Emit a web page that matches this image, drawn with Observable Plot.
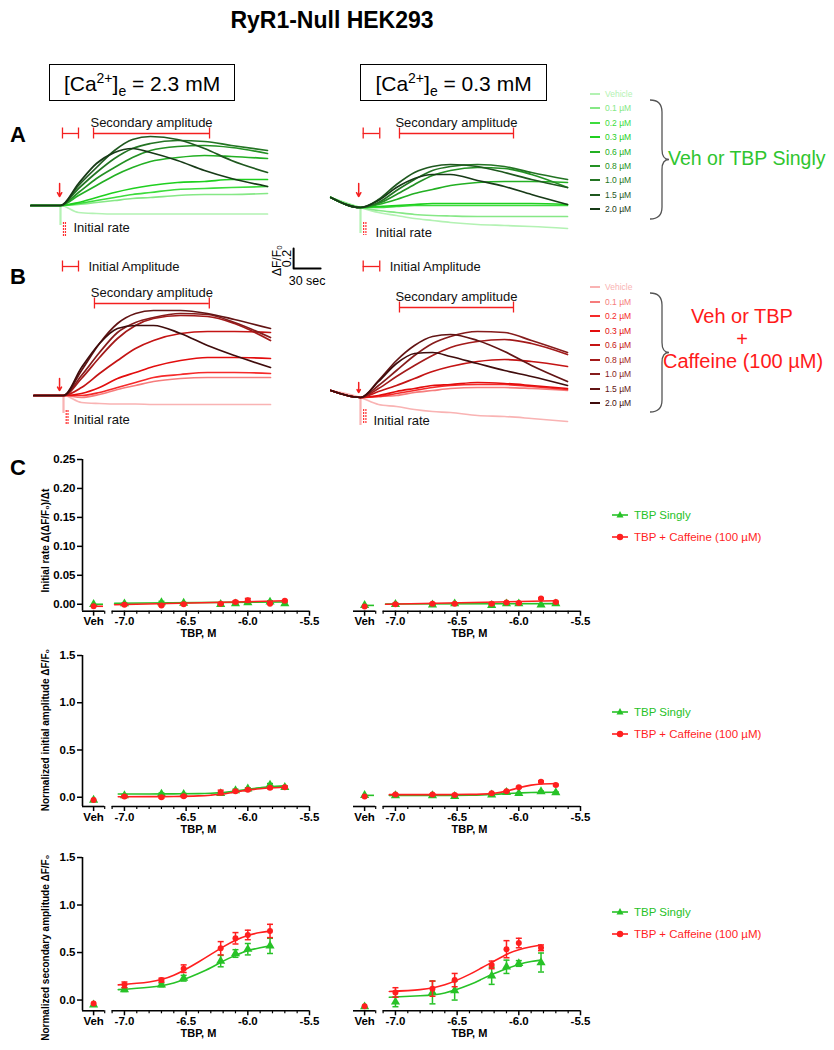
<!DOCTYPE html>
<html><head><meta charset="utf-8">
<script src="https://cdn.jsdelivr.net/npm/d3@7"></script>
<script src="https://cdn.jsdelivr.net/npm/@observablehq/plot@0.6"></script>
<style>
body{margin:0;background:#fff;font-family:"Liberation Sans",Arial,sans-serif;}
#root{position:relative;width:834px;height:1050px;overflow:hidden;background:#fff;}
.abs{position:absolute;white-space:nowrap;}
.ca{position:absolute;border:1.5px solid #000;font-size:21px;text-align:center;height:37px;line-height:37px;box-sizing:border-box;}
.ca sup,.ca sub{font-size:14px;line-height:0;}
.letter{position:absolute;font-weight:bold;font-size:22px;}
</style></head><body><div id="root"></div>
<script>
// ---------------- DATA ----------------
const times = [-33, 0, 20, 40, 60, 80, 100, 130, 160, 190, 230]; // seconds
const doseLabels = ["Vehicle","0.1 µM","0.2 µM","0.3 µM","0.6 µM","0.8 µM","1.0 µM","1.5 µM","2.0 µM"];
const greenShades = ["#b3f2b3","#86e886","#3ddc3d","#1fd01f","#23b023","#249124","#237423","#1f581f","#173a17"];
const redShades = ["#f9b3b3","#f67c7c","#f52a2a","#e30d0d","#c41414","#a31a1a","#861c1c","#621414","#3f0c0c"];

// Panel A, [Ca2+]e = 2.3 mM (ΔF/F0 at the times above)
const traceA23 = [
  [0,0,-0.07,-0.08,-0.085,-0.085,-0.085,-0.085,-0.085,-0.085,-0.085],
  [0,0,0.01,0.03,0.05,0.07,0.08,0.10,0.11,0.11,0.12],
  [0,0,0.02,0.05,0.08,0.11,0.13,0.16,0.17,0.18,0.19],
  [0,0,0.03,0.08,0.13,0.17,0.20,0.23,0.24,0.26,0.26],
  [0,0,0.10,0.20,0.30,0.38,0.44,0.48,0.50,0.49,0.47],
  [0,0,0.13,0.27,0.38,0.48,0.55,0.59,0.60,0.58,0.52],
  [0,0,0.17,0.33,0.47,0.57,0.62,0.65,0.64,0.60,0.55],
  [0,0,0.20,0.38,0.55,0.66,0.69,0.66,0.57,0.45,0.33],
  [0,0,0.22,0.42,0.53,0.57,0.53,0.45,0.35,0.27,0.19]
];
// Panel A, [Ca2+]e = 0.3 mM
const traceA03 = [
  [0.1,0,-0.05,-0.08,-0.11,-0.13,-0.15,-0.17,-0.18,-0.19,-0.21],
  [0.1,0,-0.03,-0.05,-0.07,-0.08,-0.085,-0.09,-0.09,-0.09,-0.09],
  [0.1,0,0.0,0.01,0.02,0.02,0.02,0.02,0.02,0.02,0.02],
  [0.1,0,0.01,0.02,0.03,0.04,0.04,0.04,0.04,0.04,0.03],
  [0.1,0,0.03,0.08,0.14,0.18,0.22,0.25,0.26,0.26,0.25],
  [0.1,0,0.04,0.13,0.23,0.32,0.37,0.40,0.39,0.33,0.20],
  [0.1,0,0.05,0.17,0.28,0.37,0.41,0.43,0.41,0.35,0.28],
  [0.1,0,0.08,0.23,0.35,0.41,0.43,0.41,0.35,0.28,0.20],
  [0.1,0,0.07,0.20,0.29,0.33,0.33,0.27,0.21,0.13,0.03]
];
// Panel B, [Ca2+]e = 2.3 mM
const traceB23 = [
  [0,0,-0.07,-0.08,-0.085,-0.085,-0.09,-0.09,-0.09,-0.09,-0.09],
  [0,0,-0.02,0.01,0.06,0.10,0.14,0.17,0.18,0.18,0.18],
  [0,0,0.0,0.03,0.08,0.13,0.18,0.21,0.23,0.23,0.22],
  [0,0,0.02,0.08,0.17,0.23,0.29,0.35,0.38,0.38,0.37],
  [0,0,0.08,0.22,0.35,0.47,0.55,0.62,0.64,0.64,0.63],
  [0,0,0.17,0.38,0.57,0.70,0.77,0.80,0.79,0.72,0.55],
  [0,0,0.20,0.43,0.63,0.73,0.78,0.82,0.81,0.73,0.58],
  [0,0,0.25,0.52,0.72,0.82,0.85,0.85,0.82,0.76,0.67],
  [0,0,0.28,0.52,0.67,0.70,0.70,0.62,0.50,0.40,0.28]
];
// Panel B, [Ca2+]e = 0.3 mM
const traceB03 = [
  [0.07,0,-0.07,-0.09,-0.12,-0.14,-0.15,-0.18,-0.19,-0.21,-0.24],
  [0.07,0,0.01,0.02,0.05,0.07,0.09,0.10,0.10,0.09,0.07],
  [0.07,0,0.01,0.04,0.07,0.10,0.12,0.13,0.13,0.11,0.08],
  [0.07,0,0.02,0.06,0.09,0.12,0.13,0.15,0.14,0.12,0.09],
  [0.07,0,0.06,0.12,0.19,0.26,0.31,0.36,0.38,0.36,0.31],
  [0.07,0,0.09,0.21,0.32,0.42,0.50,0.56,0.58,0.54,0.43],
  [0.07,0,0.12,0.27,0.42,0.54,0.61,0.66,0.65,0.57,0.45],
  [0.07,0,0.17,0.37,0.52,0.61,0.63,0.57,0.46,0.32,0.16],
  [0.07,0,0.16,0.34,0.44,0.45,0.41,0.34,0.27,0.21,0.12]
];

// Panel C: log[TBP] (M)
const logTBP = [-7.0, -6.7, -6.52, -6.22, -6.1, -6.0, -5.82, -5.7];
const fitX = [-7.05, -6.8, -6.6, -6.4, -6.3, -6.2, -6.1, -6.0, -5.9, -5.82, -5.7];
const fitX2 = [-7.08, -5.7];
const xMajorTicks = [-7.0, -6.5, -6.0, -5.5];
const vehTickLabel = "Veh";

// Initial rate
const rateL_G = [0.001,0.003,0.002,0.000,0.001,0.003,0.004,0.001];
const rateL_R = [-0.001,-0.002,0.000,0.001,0.004,0.007,0.001,0.006];
const rateL_GE = [0.001,0.002,0.001,0.001,0.002,0.002,0.002,0.002];
const rateL_RE = [0.001,0.001,0.001,0.001,0.002,0.003,0.001,0.001];
const rateR_G = [0.000,-0.001,0.001,-0.002,0.001,0.001,-0.001,0.001];
const rateR_R = [0.000,0.001,0.001,0.001,0.003,0.002,0.010,0.004];
const rateR_GE = [0.002,0.001,0.001,0.001,0.001,0.001,0.001,0.001];
const rateR_RE = [0.001,0.001,0.001,0.001,0.001,0.001,0.001,0.001];
const rateVeh = {L:{G:0.000,R:-0.0035}, R:{G:-0.002,R:-0.004}};
const rateFitL_G = [0.0017,0.004], rateFitL_R = [-0.001,0.006];
const rateFitR_G = [0.0003,0.001], rateFitR_R = [0.0,0.006];

// Normalized initial amplitude
const iaL_G = [0.018,0.035,0.03,0.04,0.07,0.09,0.13,0.105];
const iaL_R = [0.007,0.0,0.01,0.05,0.063,0.08,0.10,0.105];
const iaL_GE = [0.01,0.01,0.01,0.01,0.015,0.01,0.015,0.015];
const iaL_RE = [0.01,0.01,0.01,0.025,0.01,0.01,0.01,0.01];
const iaR_G = [0.018,0.018,0.01,0.025,0.053,0.042,0.06,0.05];
const iaR_R = [0.028,0.03,0.025,0.042,0.063,0.105,0.165,0.13];
const iaR_GE = [0.008,0.006,0.006,0.008,0.006,0.006,0.006,0.006];
const iaR_RE = [0.008,0.006,0.006,0.006,0.006,0.008,0.008,0.008];
const iaVeh = {L:{G:-0.03,R:-0.03}, R:{G:0.02,R:0.007}};
const iaFitL_G = [0.035,0.035,0.036,0.038,0.042,0.05,0.065,0.085,0.10,0.11,0.12];
const iaFitL_R = [0.005,0.006,0.008,0.014,0.022,0.035,0.055,0.075,0.09,0.098,0.105];
const iaFitR_G = [0.018,0.018,0.019,0.021,0.024,0.03,0.038,0.045,0.05,0.052,0.053];
const iaFitR_R = [0.028,0.028,0.028,0.03,0.033,0.042,0.065,0.10,0.128,0.14,0.145];

// Normalized secondary amplitude (no 2.0 µM point)
const saL_G = [0.11,0.16,0.23,0.41,0.49,0.535,0.57,null];
const saL_R = [0.16,0.21,0.33,0.545,0.65,0.685,0.727,null];
const saL_GE = [0.02,0.02,0.03,0.06,0.04,0.06,0.08,null];
const saL_RE = [0.03,0.02,0.04,0.07,0.06,0.05,0.07,null];
const saR_G = [-0.02,0.08,0.10,0.255,0.35,0.385,0.395,null];
const saR_R = [0.08,0.12,0.21,0.37,0.535,0.60,0.55,null];
const saR_GE = [0.05,0.12,0.10,0.09,0.07,0.03,0.10,null];
const saR_RE = [0.05,0.08,0.07,0.04,0.09,0.05,0.03,null];
const saVeh = {L:{G:-0.05,R:-0.035}, R:{G:-0.07,R:-0.065}};
const saFitL_G = [0.11,0.135,0.18,0.28,0.34,0.41,0.47,0.52,0.55,0.57,null];
const saFitL_R = [0.16,0.19,0.26,0.40,0.48,0.56,0.63,0.68,0.71,0.725,null];
const saFitR_G = [0.03,0.045,0.075,0.16,0.22,0.28,0.33,0.375,0.405,0.42,null];
const saFitR_R = [0.09,0.11,0.16,0.27,0.34,0.41,0.48,0.53,0.56,0.58,null];

// ---------------- DRAWING ----------------
const root = document.getElementById("root");
const FONT = "Liberation Sans, Arial, sans-serif";
const RED = "#ff1f1f", GREEN = "#27c227", ANN = "#f42020";
const PXS = 0.9, PXU = 100; // pixels per second / per ΔF/F0 unit

function place(el, left, top) {
  el.style.position = "absolute"; el.style.left = left + "px"; el.style.top = top + "px";
  root.appendChild(el); return el;
}
function html(tag, cls, inner, left, top, style) {
  const el = document.createElement(tag);
  if (cls) el.className = cls;
  el.innerHTML = inner;
  if (style) el.setAttribute("style", style);
  return place(el, left, top);
}

// Title, box labels, panel letters
html("div","abs","RyR1-Null HEK293",0,7,"width:664px;text-align:center;font-weight:bold;font-size:23px;");
html("div","ca","[Ca<sup>2+</sup>]<sub>e</sub> = 2.3 mM",49,64,"width:186px;");
html("div","ca","[Ca<sup>2+</sup>]<sub>e</sub> = 0.3 mM",360,64,"width:187px;");
html("div","letter","A",10,122);
html("div","letter","B",10,264);
html("div","letter","C",10,455);

function tracePanel(cfg) {
  const {left, top, xDomain, yDomain, series, colors, spike, arrow, brackets, rateLabel, rateTicks, scaleBar} = cfg;
  const width = (xDomain[1]-xDomain[0])*PXS, height = (yDomain[1]-yDomain[0])*PXU;
  const marks = [];
  marks.push(Plot.ruleX([0], {y1: 0, y2: spike, stroke: colors[0], strokeWidth: 2.2}));
  series.forEach((vals, i) => {
    marks.push(Plot.line(times.map((t, j) => ({t, v: vals[j]})), {x: "t", y: "v", stroke: colors[i], strokeWidth: 1.7, curve: "monotone-x"}));
  });
  marks.push(Plot.arrow([arrow], {x1: "t", x2: "t", y1: "v1", y2: "v2", stroke: ANN, strokeWidth: 1.5, headLength: 5}));
  marks.push(Plot.ruleY(brackets, {x1: "t1", x2: "t2", y: "v", stroke: ANN, strokeWidth: 1.3}));
  const ends = brackets.flatMap(b => [{t: b.t1, v: b.v}, {t: b.t2, v: b.v}]);
  marks.push(Plot.ruleX(ends, {x: "t", y1: d => d.v - 0.055, y2: d => d.v + 0.055, stroke: ANN, strokeWidth: 1.3}));
  marks.push(Plot.text(brackets.filter(b => b.label && !b.right), {x: d => (d.t1 + d.t2)/2, y: d => d.v + 0.11, text: "label", fontSize: 13, fill: "#111"}));
  marks.push(Plot.text(brackets.filter(b => b.label && b.right), {x: "t2", y: "v", text: "label", dx: 10, textAnchor: "start", fontSize: 13, fill: "#111"}));
  marks.push(Plot.ruleX(rateTicks.t, {x: d => d, y1: rateTicks.v1, y2: rateTicks.v2, stroke: "#ff3030", strokeWidth: 1.2, strokeDasharray: "2,1"}));
  marks.push(Plot.text([rateLabel], {x: "t", y: "v", text: d => "Initial rate", textAnchor: "start", fontSize: 13, fill: "#111"}));
  if (scaleBar) {
    const s = scaleBar;
    marks.push(Plot.line([{t: s.t, v: s.v + s.dv}, {t: s.t, v: s.v}, {t: s.t + s.dt, v: s.v}], {x: "t", y: "v", stroke: "#000", strokeWidth: 2}));
    marks.push(Plot.text(["30 sec"], {x: s.t + s.dt/2, y: s.v - 0.12, text: d => d, fontSize: 12.5, fill: "#000"}));
    marks.push(Plot.text(["0.2"], {x: s.t - 7, y: s.v + s.dv/2, text: d => d, rotate: -90, fontSize: 12.5, fill: "#000"}));
    marks.push(Plot.text(["ΔF/F₀"], {x: s.t - 18, y: s.v + s.dv/2 - 0.02, text: d => d, rotate: -90, fontSize: 12, fill: "#000"}));
  }
  const svg = Plot.plot({
    width, height, margin: 0,
    x: {domain: xDomain, axis: null}, y: {domain: yDomain, axis: null},
    style: {fontFamily: FONT, background: "transparent", overflow: "visible"},
    marks
  });
  place(svg, left, top);
}

tracePanel({left: 24, top: 115, xDomain: [-40, 300], yDomain: [-0.8, 0.9], series: traceA23, colors: greenShades,
  spike: -0.2, arrow: {t: -1, v1: 0.22, v2: 0.09},
  brackets: [{t1: 2.2, t2: 20, v: 0.72}, {t1: 36.7, t2: 165.6, v: 0.72, label: "Secondary amplitude"}, {t1: 2.2, t2: 20, v: -0.61, label: "Initial Amplitude", right: true}],
  rateLabel: {t: 14.4, v: -0.22}, rateTicks: {t: [3.3, 5.5], v1: -0.17, v2: -0.32},
  scaleBar: {t: 259, v: -0.63, dt: 30, dv: 0.2}});
tracePanel({left: 324, top: 117, xDomain: [-40, 240], yDomain: [-0.8, 0.9], series: traceA03, colors: greenShades,
  spike: -0.26, arrow: {t: -2, v1: 0.24, v2: 0.11},
  brackets: [{t1: 3, t2: 21.4, v: 0.74}, {t1: 43.3, t2: 170, v: 0.74, label: "Secondary amplitude"}, {t1: 3, t2: 21.4, v: -0.59, label: "Initial Amplitude", right: true}],
  rateLabel: {t: 16.7, v: -0.25}, rateTicks: {t: [3.5, 6], v1: -0.15, v2: -0.28}});
tracePanel({left: 27, top: 280, xDomain: [-40, 240], yDomain: [-0.4, 1.15], series: traceB23, colors: redShades,
  spike: -0.18, arrow: {t: -4.4, v1: 0.17, v2: 0.05},
  brackets: [{t1: 34.4, t2: 162, v: 0.92, label: "Secondary amplitude"}],
  rateLabel: {t: 11, v: -0.24}, rateTicks: {t: [3, 5], v1: -0.15, v2: -0.29}});
tracePanel({left: 324, top: 282, xDomain: [-40, 240], yDomain: [-0.4, 1.15], series: traceB03, colors: redShades,
  spike: -0.28, arrow: {t: -2, v1: 0.15, v2: 0.05},
  brackets: [{t1: 43.3, t2: 170, v: 0.90, label: "Secondary amplitude"}],
  rateLabel: {t: 14.4, v: -0.23}, rateTicks: {t: [3.5, 6], v1: -0.12, v2: -0.26}});

// Dose legends for A and B
function doseLegend(y0, step, colors) {
  doseLabels.forEach((lab, i) => {
    const y = y0 + i*step;
    html("div", "abs", "", 590, y - 1, `width:10px;height:2px;background:${colors[i]};`);
    html("div", "abs", lab, 605, y - 6, `font-size:8.5px;line-height:12px;color:${colors[i]};`);
  });
}
doseLegend(94, 14.4, greenShades);
doseLegend(287, 14.5, redShades);
function brace(y1, y2) {
  const ym = (y1 + y2)/2;
  const svg = document.createElementNS("http://www.w3.org/2000/svg", "svg");
  svg.setAttribute("width", 30); svg.setAttribute("height", y2 - y1 + 4);
  svg.style.overflow = "visible";
  const h = y2 - y1, m = ym - y1;
  const p = document.createElementNS("http://www.w3.org/2000/svg", "path");
  p.setAttribute("d", `M0,0 Q12,0 12,12 L12,${m-10} Q12,${m} 19,${m} Q12,${m} 12,${m+10} L12,${h-12} Q12,${h} 0,${h}`);
  p.setAttribute("fill", "none"); p.setAttribute("stroke", "#555"); p.setAttribute("stroke-width", "1.3");
  svg.appendChild(p);
  place(svg, 650, y1);
}
brace(100, 219);
brace(293, 412);
html("div","abs","Veh or TBP Singly",668,147,"font-size:19.5px;color:#2fc52f;");
html("div","abs","Veh or TBP<br>+<br>Caffeine (100 µM)",663,305,"width:158px;text-align:center;font-size:20px;line-height:22.5px;color:#ff1a1a;");

// -------- Panel C dose-response charts --------
const VEH = -7.25, XMIN = -7.34, XMAX = -5.5;
const axisSegments = [{x1: XMIN, x2: -7.16}, {x1: -7.1, x2: XMAX}];
const minorTicks = d3.range(-71, -54).map(d => d/10).filter(d => !xMajorTicks.some(m => Math.abs(m - d) < 1e-9)).concat([-7.16]);
const capSymbol = {draw(ctx, size) { const r = Math.sqrt(size/Math.PI); ctx.moveTo(-r, 0); ctx.lineTo(r, 0); }};

function pts(vals, errs) {
  return logTBP.map((x, i) => ({x, y: vals[i], e: errs[i]})).filter(d => d.y != null);
}
function fitLine(xs, ys) { return xs.map((x, i) => ({x, y: ys[i]})); }

function doseChart(cfg) {
  const {left, top, marginLeft, plotH, yDomain, yTicks, yFmt, showY, ylabel, labelY, G, R, fitG, fitR, veh, vehLines, fx} = cfg;
  const mt = 8, mb = 34, mr = 10;
  const width = marginLeft + 227 + mr;
  const marks = [];
  marks.push(Plot.ruleY(axisSegments, {x1: "x1", x2: "x2", y: yDomain[0], stroke: "#000", strokeWidth: 1.6}));
  marks.push(Plot.axisX({ticks: xMajorTicks, tickFormat: d => d.toFixed(1), tickSize: 5, tickPadding: 1, strokeWidth: 1.5, fontSize: 11.5, fontWeight: "bold", label: null}));
  marks.push(Plot.axisX({ticks: [VEH], tickFormat: () => vehTickLabel, tickSize: 5, tickPadding: 1, strokeWidth: 1.5, fontSize: 11.5, fontWeight: "bold", label: null}));
  marks.push(Plot.axisX({ticks: minorTicks, tickFormat: () => "", tickSize: 3, strokeWidth: 1.2, label: null}));
  marks.push(Plot.text(["TBP, M"], {x: -6.4, frameAnchor: "bottom", dy: 26, text: d => d, fontSize: 11, fontWeight: "bold", fill: "#000"}));
  if (showY) {
    marks.push(Plot.ruleX([XMIN], {y1: yDomain[0], y2: yTicks[yTicks.length - 1], stroke: "#000", strokeWidth: 1.6}));
    marks.push(Plot.axisY({ticks: yTicks, tickFormat: yFmt, tickSize: 5, tickPadding: 2, strokeWidth: 1.5, fontSize: 11.5, fontWeight: "bold", label: null}));
    marks.push(Plot.text([ylabel], {x: XMIN, y: labelY, dx: -37, text: d => d, rotate: -90, fontSize: 10, fontWeight: "bold", fill: "#000"}));
  } else {
    marks.push(Plot.axisY({ticks: [], label: null}));
  }
  const series = [
    {p: G, f: fitG, c: GREEN, sym: "triangle", r: 3.4, v: veh.G, vl: vehLines && vehLines.G},
    {p: R, f: fitR, c: RED, sym: "circle", r: 3, v: veh.R, vl: vehLines && vehLines.R}
  ];
  for (const s of series) {
    marks.push(Plot.line(fitLine(fx || fitX, s.f), {x: "x", y: "y", stroke: s.c, strokeWidth: 1.6, curve: fx ? "linear" : "natural"}));
    if (s.vl) marks.push(Plot.ruleY([s.v], {x1: VEH, x2: -7.17, stroke: s.c, strokeWidth: 1.6}));
    marks.push(Plot.ruleX(s.p, {x: "x", y1: d => d.y - d.e, y2: d => d.y + d.e, stroke: s.c, strokeWidth: 1.5}));
    marks.push(Plot.dot(s.p, {x: "x", y: d => d.y + d.e, symbol: capSymbol, r: 3, stroke: s.c, strokeWidth: 1.5, fill: "none"}));
    marks.push(Plot.dot(s.p, {x: "x", y: d => d.y - d.e, symbol: capSymbol, r: 3, stroke: s.c, strokeWidth: 1.5, fill: "none"}));
    marks.push(Plot.dot(s.p, {x: "x", y: "y", symbol: s.sym, r: s.r, fill: s.c}));
    marks.push(Plot.dot([s.v], {x: VEH, y: d => d, symbol: s.sym, r: s.r, fill: s.c}));
  }
  const svg = Plot.plot({
    width, height: mt + plotH + mb, marginTop: mt, marginBottom: mb, marginLeft, marginRight: mr,
    x: {domain: [XMIN, XMAX]}, y: {domain: yDomain},
    style: {fontFamily: FONT, background: "transparent", overflow: "visible", color: "#000"},
    marks
  });
  place(svg, left, top - mt);
}

const rows = [
  {top: 459.3, plotH: 151.7, yDomain: [-0.012, 0.25], yTicks: [0, 0.05, 0.10, 0.15, 0.20, 0.25], yFmt: d => d.toFixed(2),
   ylabel: "Initial rate Δ(ΔF/F₀)/Δt", labelY: 0.11,
   L: {G: pts(rateL_G, rateL_GE), R: pts(rateL_R, rateL_RE), fitG: rateFitL_G, fitR: rateFitL_R, veh: rateVeh.L, fx: fitX2, vehLines: {G: true, R: true}},
   R: {G: pts(rateR_G, rateR_GE), R: pts(rateR_R, rateR_RE), fitG: rateFitR_G, fitR: rateFitR_R, veh: rateVeh.R, fx: fitX2, vehLines: {G: true, R: false}},
   legendY: 515},
  {top: 655, plotH: 151, yDomain: [-0.098, 1.5], yTicks: [0, 0.5, 1.0, 1.5], yFmt: d => d.toFixed(1),
   ylabel: "Normalized initial amplitude ΔF/F₀", labelY: 0.71,
   L: {G: pts(iaL_G, iaL_GE), R: pts(iaL_R, iaL_RE), fitG: iaFitL_G, fitR: iaFitL_R, veh: iaVeh.L},
   R: {G: pts(iaR_G, iaR_GE), R: pts(iaR_R, iaR_RE), fitG: iaFitR_G, fitR: iaFitR_R, veh: iaVeh.R, vehLines: {G: true, R: false}},
   legendY: 712},
  {top: 856.7, plotH: 153.3, yDomain: [-0.113, 1.5], yTicks: [0, 0.5, 1.0, 1.5], yFmt: d => d.toFixed(1),
   ylabel: "Normalized secondary amplitude ΔF/F₀", labelY: 0.55,
   L: {G: pts(saL_G, saL_GE), R: pts(saL_R, saL_RE), fitG: saFitL_G, fitR: saFitL_R, veh: saVeh.L},
   R: {G: pts(saR_G, saR_GE), R: pts(saR_R, saR_RE), fitG: saFitR_G, fitR: saFitR_R, veh: saVeh.R},
   legendY: 912}
];
for (const row of rows) {
  doseChart(Object.assign({left: 0, top: row.top, marginLeft: 82, plotH: row.plotH, yDomain: row.yDomain, yTicks: row.yTicks, yFmt: row.yFmt, showY: true, ylabel: row.ylabel, labelY: row.labelY}, row.L));
  doseChart(Object.assign({left: 333, top: row.top, marginLeft: 20, plotH: row.plotH, yDomain: row.yDomain, yTicks: row.yTicks, yFmt: row.yFmt, showY: false}, row.R));
  // legend
  const items = [{lab: "TBP Singly", c: GREEN, sym: "tri"}, {lab: "TBP + Caffeine (100 µM)", c: RED, sym: "circ"}];
  items.forEach((it, i) => {
    const y = row.legendY + i*22;
    const marker = it.sym === "tri" ? `<path d="M8,1 L11.5,7.5 L4.5,7.5 Z" fill="${it.c}"/>` : `<circle cx="8" cy="5" r="3.2" fill="${it.c}"/>`;
    html("div", "abs", `<svg width="16" height="10"><line x1="0" y1="5" x2="16" y2="5" stroke="${it.c}" stroke-width="1.6"/>${marker}</svg>`, 612, y - 5, "line-height:0;");
    html("div", "abs", it.lab, 634, y - 7, `font-size:11.5px;line-height:14px;color:${it.c};`);
  });
}
</script></body></html>
